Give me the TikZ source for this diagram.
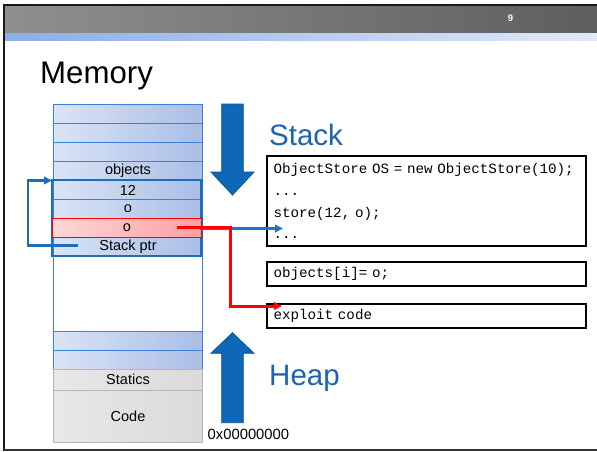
\documentclass[tikz,border=0pt]{standalone}
\usepackage{fontspec}
\setmainfont{Liberation Sans}
\setmonofont{Liberation Mono}
\usetikzlibrary{arrows.meta}

\definecolor{rowL}{HTML}{DAE4F6}
\definecolor{rowR}{HTML}{A9BDE6}
\definecolor{rowline}{HTML}{3A82D6}
\definecolor{boxblue}{HTML}{1C6DBA}
\definecolor{bigblue}{HTML}{0E67B8}
\definecolor{bigblueline}{HTML}{0A5293}
\definecolor{titleblue}{HTML}{1A65AE}
\definecolor{pinkL}{HTML}{FFD6D6}
\definecolor{pinkR}{HTML}{FF9FA2}
\definecolor{grayL}{HTML}{E8E8E8}
\definecolor{grayR}{HTML}{DADADA}
\definecolor{grayline}{HTML}{B5B5B5}
\definecolor{barL}{HTML}{8F8F8F}
\definecolor{barR}{HTML}{5E5E5E}
\definecolor{stripL}{HTML}{8CADE6}
\definecolor{stripR}{HTML}{E1E9F7}
\definecolor{ptrblue}{HTML}{1F73C4}

% listing font with full-width spaces
\DeclareRobustCommand{\codefont}{\fontsize{14.2}{21.7}\selectfont\ttfamily\spaceskip=0.6em\relax}

\tikzset{
  memrow/.style={draw=rowline, line width=1pt, left color=rowL, right color=rowR,
    minimum width=149pt, minimum height=19pt, inner sep=0pt,
    font=\fontsize{14.5}{16}\selectfont},
  hotrow/.style={memrow, draw=red, left color=pinkL, right color=pinkR},
  fixrow/.style={draw=grayline, line width=1pt, left color=grayL, right color=grayR,
    minimum width=149pt, inner sep=0pt, font=\fontsize{14.5}{16}\selectfont},
  codebox/.style={draw=black, line width=1.8pt, fill=white, minimum width=318.7pt,
    inner xsep=6pt, inner ysep=0pt, text width=306pt, align=left,
    font=\codefont},
  bigtitle/.style={font=\fontsize{29.5}{30}\selectfont, inner sep=0pt},
  bigarrow/.style={fill=bigblue, draw=bigblueline, line width=0.8pt},
  ptrarrow/.style={draw=ptrblue, line width=2.2pt, -{Triangle[length=8pt,width=7.5pt]}},
  hotarrow/.style={draw=red, line width=3pt, -{Triangle[length=8pt,width=7.5pt]}},
}

\begin{document}
\begin{tikzpicture}[x=1pt,y=-1pt]
\useasboundingbox (0,0) rectangle (597,451);
\fill[white] (0,0) rectangle (597,451);

% slide header
\shade[left color=barL, right color=barR] (5,6) rectangle (597,33);
\shade[left color=stripL, right color=stripR] (5,33) rectangle (597,40);
\node[text=white, font=\fontsize{9.5}{10}\selectfont\bfseries] (pagenum) at (510.5,18.5) {9};

% slide frame
\draw[line width=2.5pt, color=black!90] (4,5) -- (597,5);
\draw[line width=2.5pt, color=black!90] (4,4) -- (4,451);
\draw[line width=2.5pt, color=black!80] (4,450) -- (597,450);

% title
\node[font=\fontsize{31.2}{32}\selectfont, anchor=base west, inner sep=0pt] (memtitle) at (40,83) {Memory};

% memory column
\draw[rowline, line width=1pt] (53,104) rectangle (202,369);
\node[memrow, anchor=north west] (r1) at (53,104) {};
\node[memrow, anchor=north west] (r2) at (53,123) {};
\node[memrow, anchor=north west] (r3) at (53,142) {};
\node[memrow, anchor=north west] (robj) at (53,161) {objects};
\node[memrow, anchor=north west] (r12) at (53,180) {12};
\node[memrow, anchor=north west] (ro) at (53,199) {o};
\node[memrow, anchor=north west] (rsp) at (53,237) {Stack ptr};
\node[memrow, anchor=north west] (h1) at (53,331) {};
\node[memrow, anchor=north west] (h2) at (53,350) {};
\node[fixrow, anchor=north west, minimum height=20.5pt] (stat) at (53,369) {Statics};
\node[fixrow, anchor=north west, minimum height=52pt] (code) at (53,389.5) {Code};

% current frame
\draw[boxblue, line width=2.4pt] (52,180) rectangle (201.5,256);
\node[hotrow, anchor=north west] (rhot) at (52,218) {o};

% saved stack pointer link
\coordinate (spout) at (78,245.5);
\coordinate (spin) at (52,180.5);
\draw[ptrarrow, line width=2.4pt, color=boxblue] (spout) -- (28,245.5) -- (28,180.5) -- (spin);

% growth arrows
\path[bigarrow] (221.7,104) -- (243.3,104) -- (243.3,172) -- (254,172) -- (232.5,195)
  -- (211,172) -- (221.7,172) -- cycle;
\path[bigarrow] (221.7,422.7) -- (243.3,422.7) -- (243.3,353.3) -- (254,353.3) -- (232.5,332.7)
  -- (211,353.3) -- (221.7,353.3) -- cycle;

\node[bigtitle, text=titleblue, anchor=base west] (stacklbl) at (269,145) {Stack};
\node[bigtitle, text=titleblue, anchor=base west] (heaplbl) at (269,385) {Heap};
\node[font=\fontsize{14.8}{16}\selectfont, anchor=west, inner sep=0pt] (addr) at (207.5,434.5) {0x00000000};

% code listings
\node[codebox, minimum height=90pt] (callbox) at (426.6,201) {%
ObjectStore OS = new ObjectStore(10);\\
...\\
store(12, o);\\
...};
\node[codebox, minimum height=24.3pt] (storebox) at (426.6,273.9) {objects[i]= o;};
\node[codebox, minimum height=24.3pt] (exploitbox) at (426.6,316.2) {exploit code};

% return addresses
\coordinate (retstart) at (200,228.5);
\coordinate (retend) at (283,228.5);
\draw[ptrarrow] (retstart) -- (retend);
\coordinate (hotstart) at (177,227);
\coordinate (hotend) at (282,306);
\draw[hotarrow] (hotstart) -- (230,227) -- (230,306) -- (hotend);
\end{tikzpicture}
\end{document}
